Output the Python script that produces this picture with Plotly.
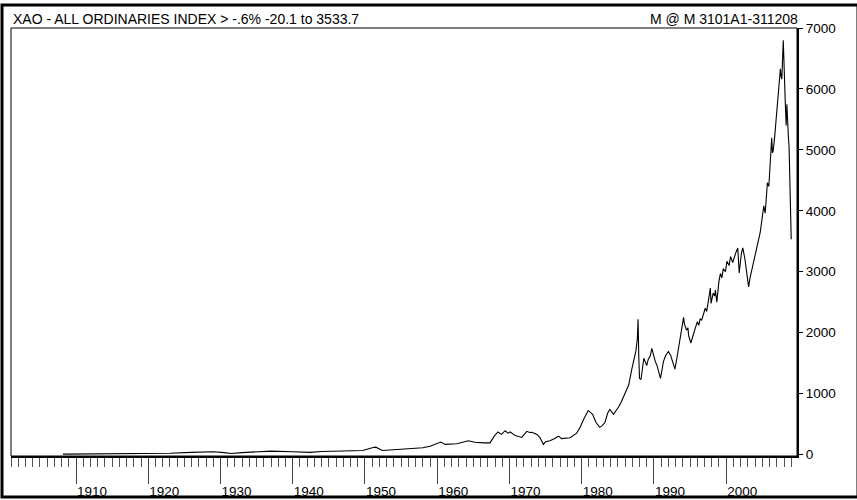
import plotly.graph_objects as go

# decimal years and index level
years = [1908.2, 1912.0, 1916.0, 1920.0, 1923.0, 1926.0, 1929.0, 1930.5, 1931.5, 1933.0,
         1937.0, 1940.0, 1942.4, 1944.0, 1947.0, 1949.7, 1951.0, 1951.5, 1952.4, 1954.0,
         1956.7, 1958.0, 1959.0, 1960.5, 1961.1, 1962.7, 1964.3, 1965.2, 1966.5, 1967.3,
         1967.9, 1968.4, 1968.9, 1969.4, 1969.8, 1970.1, 1970.8, 1971.7, 1972.4, 1972.8,
         1973.1, 1973.8, 1974.2, 1974.7, 1975.0, 1975.6, 1976.2, 1976.8, 1977.2, 1978.0,
         1978.4, 1979.3, 1979.8, 1980.2, 1980.6, 1980.9, 1981.2, 1981.5, 1982.0, 1982.5,
         1982.8, 1983.2, 1983.6, 1983.9, 1984.4, 1984.8, 1985.1, 1985.5, 1985.8, 1986.2,
         1986.5, 1986.9, 1987.2, 1987.5, 1987.7, 1987.8, 1987.9, 1988.0, 1988.2, 1988.4,
         1988.6, 1988.8, 1989.0, 1989.2, 1989.5, 1989.7, 1990.0, 1990.2, 1990.4, 1990.7,
         1990.9, 1991.1, 1991.3, 1991.6, 1992.0, 1992.3, 1992.6, 1992.9, 1993.2, 1993.4,
         1993.6, 1993.9, 1994.1, 1994.2, 1994.3, 1994.5, 1994.7, 1994.8, 1995.1, 1995.3,
         1995.4, 1995.7, 1996.0, 1996.2, 1996.4, 1996.6, 1996.8, 1997.1, 1997.3, 1997.5,
         1997.7, 1997.8, 1997.9, 1998.2, 1998.4, 1998.5, 1998.7, 1999.0, 1999.2, 1999.4,
         1999.6, 1999.9, 2000.1, 2000.4, 2000.6, 2000.9, 2001.1, 2001.3, 2001.6, 2001.8,
         2002.1, 2002.3, 2002.6, 2002.9, 2003.1, 2003.3, 2003.6, 2003.8, 2004.0, 2004.3,
         2004.5, 2004.7, 2005.0, 2005.2, 2005.4, 2005.7, 2005.9, 2006.1, 2006.3, 2006.4,
         2006.5, 2006.7, 2007.0, 2007.3, 2007.5, 2007.6, 2007.7, 2007.9, 2008.1, 2008.2,
         2008.3, 2008.4, 2008.6, 2008.7, 2009.0]
values = [5, 8, 10, 12, 20, 35, 45, 30, 15, 30,
          55, 45, 35, 50, 55, 65, 110, 120, 65, 75,
          95, 110, 135, 205, 165, 176, 225, 200, 190, 190,
          300, 370, 330, 390, 350, 370, 310, 280, 380, 360,
          365, 330, 280, 165, 210, 225, 260, 300, 260, 270,
          275, 350, 450, 560, 650, 720, 690, 660, 520, 445,
          470, 520, 680, 740, 660, 720, 780, 870, 950, 1050,
          1140, 1380, 1550, 1700, 1900, 2220, 1600, 1250, 1230, 1400,
          1580, 1520, 1460, 1560, 1620, 1740, 1600, 1520, 1470, 1350,
          1250, 1380, 1520, 1620, 1690, 1630, 1520, 1400, 1600, 1750,
          1900, 2100, 2250, 2150, 2100, 2040, 2080, 1950, 1830, 1900,
          1960, 2040, 2180, 2120, 2230, 2200, 2300, 2400, 2350, 2550,
          2650, 2730, 2480, 2650, 2600, 2700, 2500, 2850, 2970, 2900,
          3050, 3000, 3170, 3100, 3250, 3150, 3250, 3300, 3390, 2980,
          3300, 3390, 3200, 2950, 2750, 2900, 3050, 3150, 3250, 3420,
          3500, 3640, 3900, 4080, 3960, 4460, 4400, 4730, 5200, 4950,
          4980, 5200, 5610, 6000, 6330, 6200, 6160, 6800, 5780, 5700,
          5400, 5750, 5230, 5060, 3534]

decades = [1910, 1920, 1930, 1940, 1950, 1960, 1970, 1980, 1990, 2000]
y_ticks = [0, 1000, 2000, 3000, 4000, 5000, 6000, 7000]

title_left = "XAO - ALL ORDINARIES INDEX > -.6% -20.1 to 3533.7"
title_right = "M @ M 3101A1-311208"

FONT = "Liberation Sans, Arial, sans-serif"

fig = go.Figure()
fig.add_trace(go.Scatter(x=years, y=values, mode="lines",
                         line=dict(color="black", width=1.1), showlegend=False,
                         hoverinfo="skip"))

fig.update_layout(
    width=857, height=500,
    margin=dict(l=11, r=60, t=28, b=44, autoexpand=False),
    paper_bgcolor="white", plot_bgcolor="white",
    font=dict(family=FONT, size=13.5, color="black"),
    xaxis=dict(range=[1901.0, 2009.8], tickvals=decades,
               ticktext=[str(d) for d in decades],
               ticks="outside", ticklen=26, tickwidth=1, tickcolor="#444",
               ticklabelshift=16, ticklabelstandoff=-4, automargin=False,
               minor=dict(ticks="outside", ticklen=9, tickwidth=1,
                          tickcolor="#555", dtick=1, tick0=1900),
               showline=True, linecolor="black", linewidth=2,
               showgrid=False, zeroline=False, fixedrange=True),
    yaxis=dict(range=[-25, 7000], side="right", tickvals=y_ticks,
               ticks="outside", ticklen=4, tickwidth=1, tickcolor="black",
               automargin=False,
               showline=True, linecolor="black", linewidth=2,
               showgrid=False, zeroline=False, fixedrange=True),
)

# thin frame on top and left of the plot area
fig.add_shape(type="rect", xref="paper", yref="paper", x0=0, y0=0, x1=1, y1=1,
              line=dict(color="black", width=1))
# outer border of the whole picture
fig.add_shape(type="rect", xref="paper", yref="paper",
              x0=-9 / 786, x1=847 / 786, y0=-41 / 428, y1=451 / 428,
              line=dict(color="black", width=3), layer="above")

fig.add_annotation(text=title_left, xref="paper", yref="paper",
                   x=0, y=1, xanchor="left", yanchor="bottom", yshift=-1,
                   showarrow=False, font=dict(size=14))
fig.add_annotation(text=title_right, xref="paper", yref="paper",
                   x=782 / 786, y=1, xanchor="right", yanchor="bottom", yshift=-1,
                   xshift=7, showarrow=False, font=dict(size=14))

fig.write_html("out.html", config={"displayModeBar": False},
               post_script="document.body.style.margin='0';")
